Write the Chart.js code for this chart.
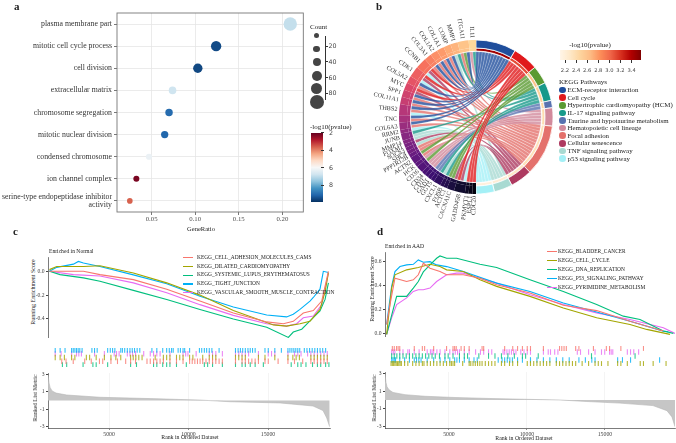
<!DOCTYPE html>
<html><head><meta charset="utf-8">
<script src="https://cdn.jsdelivr.net/npm/chart.js@4.4.1/dist/chart.umd.min.js"></script>
<style>
html,body{margin:0;padding:0;background:#fff}
#root{position:relative;width:676px;height:443px;overflow:hidden;font-family:"Liberation Serif","Times New Roman",serif;color:#222}
#root canvas{position:absolute}
.tx{position:absolute;white-space:nowrap;line-height:1}
.sh{position:absolute}
</style></head>
<body><div id="root">
<canvas id="cA" width="310" height="226" style="left:0;top:0"></canvas>
<canvas id="cB" width="272" height="234" style="left:340px;top:0"></canvas>
<canvas id="cCes" width="304" height="81" style="left:36px;top:257px"></canvas>
<canvas id="cCrug" width="292" height="29" style="left:48px;top:343px"></canvas>
<canvas id="cCrank" width="304" height="71" style="left:36px;top:369px"></canvas>
<canvas id="cDes" width="303" height="85" style="left:373px;top:252px"></canvas>
<canvas id="cDrug" width="291" height="30" style="left:385px;top:341px"></canvas>
<canvas id="cDrank" width="303" height="72" style="left:373px;top:368px"></canvas>
</div>
<script>
// ================= DATA =================
// Panel a: GO enrichment dot plot
const goTerms = ['plasma membrane part','mitotic cell cycle process','cell division','extracellular matrix','chromosome segregation','mitotic nuclear division','condensed chromosome','ion channel complex','serine-type endopeptidase inhibitor activity'];
const goGeneRatio = [0.209,0.124,0.103,0.074,0.070,0.065,0.047,0.0325,0.025];
const goCount = [84,50,41,27,26,25,18,17,15];
const goLogP = [6.9,9.5,9.55,6.75,9.0,9.1,6.2,2.2,3.6];
const ratioTicks = [0.05,0.10,0.15,0.20];
const countKeys = [14,21,30,46,60,92];
const countTicks = [20,40,60,80];
const logPTicks = [2,4,6,8];

// Panel b: KEGG chord diagram
const pathways = ['ECM-receptor interaction','Cell cycle','Hypertrophic cardiomyopathy (HCM)','IL-17 signaling pathway','Taurine and hypotaurine metabolism','Hematopoietic cell lineage','Focal adhesion','Cellular senescence','TNF signaling pathway','p53 signaling pathway'];
const pathwayColors = ['#1f4e9c','#e0191c','#5a9a32','#17998a','#5872b0','#d28a9c','#e4716c','#ad3a60','#a8dad2','#a4f0f6'];
const pathwayLogP = [3.45,3.1,2.6,2.5,2.45,2.4,2.35,2.3,2.22,2.18];
const pvalTicks = [2.2,2.4,2.6,2.8,3.0,3.2,3.4];
const genes = ['IL11','ITGA11','MMP1','COMP','COL1A1','COL1A2','COL3A1','CCNB1','CDK1','COL5A2','MYC','SPP1','COL11A1','THBS2','TNC','COL6A3','RRM2','JUNB','MMP14','FOXM1','SOCS3','SHC4','PPP1R12B','ACTN2','HCK','CD36','CD34','CD1C','GAD1','GGT5','CXCL1','FOSB','ACTC1','CACNA1C','GADD45B','PKMYT1','ESPL1','CDC20'];
const geneLogFC = [4.4,4.0,3.7,3.5,3.2,3.0,2.7,2.4,2.0,1.7,1.4,1.1,0.9,0.5,0.2,-0.1,-0.3,-0.5,-0.6,-0.8,-0.9,-1.0,-1.2,-1.4,-1.5,-1.7,-1.9,-2.1,-2.2,-2.3,-2.5,-2.7,-2.8,-3.0,-3.3,-3.5,-3.7,-3.9];
const genePathways = [[3,5],[0,6,2],[3,8],[0,6],[0,6],[0,6],[0,6],[1,9,7],[1,9,7],[0,6],[1,7],[0,6],[0,6],[0,6,9],[0,6],[0,6],[9],[8,3],[8],[7],[8],[6],[6],[6,2],[5],[5,2],[5],[5],[4],[4],[3,8],[3],[2],[2,7],[1,9,7],[1],[1],[1]];

// Panel c: GSEA enriched in Normal
const rankTicks = [5000,10000,15000];
const metricTicks = [-3,-2,-1,0,1,2,3];
const cNames = ['KEGG_CELL_ADHESION_MOLECULES_CAMS','KEGG_DILATED_CARDIOMYOPATHY','KEGG_SYSTEMIC_LUPUS_ERYTHEMATOSUS','KEGG_TIGHT_JUNCTION','KEGG_VASCULAR_SMOOTH_MUSCLE_CONTRACTION'];
const cColors = ['#F8766D','#A3A500','#00BF7D','#00B0F6','#E76BF3'];
const cEsTicks = [-0.4,-0.2,0.0];
const cAdhRank = [1250,3390,4430,6530,8630,10720,12820,14920,15960,16590,17220,17850,18380,18800];
const cAdhES = [0,0,-0.028,-0.07,-0.15,-0.25,-0.35,-0.425,-0.44,-0.42,-0.35,-0.33,-0.25,0.0];
const cDilRank = [1250,1710,3390,4430,6530,8630,10720,12820,14920,15340,16170,17010,17640,18270,18590,18800];
const cDilES = [0.014,0.04,0.04,0.047,-0.014,-0.097,-0.2,-0.33,-0.43,-0.45,-0.46,-0.44,-0.42,-0.32,-0.17,-0.014];
const cSleRank = [1250,1920,3390,4430,6530,8630,10720,12820,14920,16280,16590,17120,17640,18270,18590,18800];
const cSleES = [0,-0.028,-0.055,-0.083,-0.16,-0.236,-0.32,-0.40,-0.47,-0.555,-0.51,-0.486,-0.417,-0.333,-0.236,-0.097];
const cTjRank = [1250,1710,2760,3070,3390,4430,6530,8630,10720,12820,14920,16170,16590,17010,17640,17850,18270,18480,18800];
const cTjES = [0,0.033,0.06,0.083,0.07,0.04,-0.03,-0.105,-0.21,-0.30,-0.367,-0.383,-0.36,-0.32,-0.25,-0.22,-0.15,0.0,-0.01];
const cVscRank = [1250,2760,4430,6530,8630,10720,12820,14920,16170,16800,17220,17850,18380,18800];
const cVscES = [0,-0.028,-0.04,-0.097,-0.18,-0.28,-0.37,-0.44,-0.46,-0.44,-0.39,-0.375,-0.28,-0.014];
const cTjHits = [1295,1610,1925,2345,2450,2555,2660,2765,2870,3017,3647,3815,3983,4655,4823,4970,5117,5495,5600,5747,5915,6083,6230,6377,6545,6713,7490,7805,8183,8435,8603,8750,8855,9170,9317,9485,9590,9905,10535,10682,10850,10997,11165,11333,11795,12845,13013,13160,13307,13475,13643,13790,13937,14105,14735,14945,15365,15785,16205,16331,16457,16583,16709,16835,16961,17255,17423,17591,17759,17927,18095,18263,18431,18620];
const cVscHits = [1295,1673,2345,2660,2807,2975,3815,4445,5075,5222,5390,5915,6083,6251,6440,6965,7385,7595,7805,8015,8645,9485,9653,9800,10325,11165,11375,11585,12005,12845,13055,13265,13475,13685,14315,14945,15155,15365,16205,16625,16835,17045,17465,17675,17885,18095,18305,18515,18725];
const cDilHits = [1295,1610,1883,2345,2555,3290,3500,3920,4445,4865,5180,5495,6125,6293,6461,6650,6860,7700,8225,8435,8645,9065,9275,9485,9905,10115,10745,11165,11375,11585,12845,13055,13265,13475,14315,14735,15365,16205,16520,16730,16940,17675,17885,18095,18305,18515,18725];
const cAdhHits = [1715,1988,2450,3185,3605,4130,4340,4865,5285,5810,6125,6440,7175,7385,7595,7805,8015,8225,8645,9065,9485,9905,10073,10241,10409,10577,10745,10955,11165,11375,11585,11795,12005,12845,13265,13475,13685,13895,14105,14315,14735,14945,15575,16205,16625,17150,17675,17885,18095,18305,18515,18725];
const cSleHits = [1757,2030,3080,3710,3920,4655,6125,6503,7595,7805,8183,8435,8645,9065,9695,10850,11060,11375,12005,12845,13265,13475,13790,14105,14630,16415,16835,17045,17360,17780,18095,18305,18620,18830];
const cMetricRank = [1163,1227,1290,1415,1667,2340,4434,7580,10724,12611,15756,17832,18460,18694,18880];
const cMetricValue = [2.9,2.0,1.5,1.1,0.85,0.63,0.37,0.22,0.05,-0.14,-0.28,-0.63,-1.15,-2.0,-3.0];

// Panel d: GSEA enriched in AAD
const dNames = ['KEGG_BLADDER_CANCER','KEGG_CELL_CYCLE','KEGG_DNA_REPLICATION','KEGG_P53_SIGNALING_PATHWAY','KEGG_PYRIMIDINE_METABOLISM'];
const dColors = ['#F8766D','#A3A500','#00BF7D','#00B0F6','#E76BF3'];
const dEsTicks = [0.0,0.2,0.4,0.6];
const dBlaRank = [1005,1219,1539,2287,2715,3035,3356,3783,4424,4852,5920,6989,8057,10194,12331,14468,16605,18742];
const dBlaES = [0.074,0.239,0.458,0.43,0.444,0.486,0.582,0.54,0.513,0.486,0.486,0.458,0.403,0.335,0.233,0.189,0.10,0.019];
const dCcRank = [1005,1325,1539,2287,3035,3783,4424,4852,5920,6989,8057,10194,12331,14468,16605,17674,19169];
const dCcES = [-0.008,0.376,0.486,0.527,0.546,0.573,0.554,0.527,0.513,0.444,0.39,0.307,0.211,0.129,0.074,0.033,-0.008];
const dDnaRank = [1005,1646,2287,2715,3035,3356,3783,4210,4424,4852,5493,6989,8057,10194,12331,14468,16178,17246,18742,19383];
const dDnaES = [-0.008,0.307,0.307,0.376,0.43,0.51,0.568,0.623,0.642,0.623,0.623,0.573,0.546,0.444,0.348,0.239,0.143,0.115,0.019,0.0];
const dP53Rank = [1005,1325,1539,1860,2287,2715,3035,3356,3783,4210,4852,5920,8057,10194,12331,14468,16605,18742,19063];
const dP53ES = [0.074,0.39,0.513,0.554,0.568,0.573,0.609,0.59,0.595,0.568,0.554,0.513,0.417,0.348,0.252,0.178,0.10,0.019,0.014];
const dPyrRank = [1005,1325,1646,2287,2715,3035,3356,3783,4210,4852,5493,5920,6989,8057,10194,12331,14468,16605,18742,19490];
const dPyrES = [-0.008,0.129,0.239,0.294,0.348,0.362,0.362,0.376,0.43,0.486,0.5,0.5,0.458,0.417,0.321,0.239,0.17,0.115,0.047,0.0];
const dBlaHits = [1048,1176,1325,1432,1539,2501,3035,3185,3783,4638,5065,5172,5279,5600,5813,6134,6989,7095,8484,9019,9339,9660,9980,10194,11049,12117,12267,12416,12566,13186,13400,14361,15216,15430,16178,17674];
const dPyrHits = [1005,1112,1219,1539,1753,2073,2180,2501,2821,3356,3569,3676,3783,3997,4210,4531,4852,5065,5215,5364,5493,5813,6134,6561,6882,7095,7416,7630,8378,8484,8634,8784,8933,9083,9232,9553,9767,9980,10194,11049,11369,11519,11797,12010,13293,13506,14041,14468,14895,15109,15430,15537,15643,16605,16819,17032,17353];
const dDnaHits = [1005,1176,1347,1539,1753,1966,2180,2394,2608,2821,3035,3249,3462,3676,3890,4168,4531,4745,5065,5493,5813,6027,6775,7416,7843,8271,8698,9126,9660,9873,10707,14233,17118];
const dP53Hits = [1005,1090,1176,1261,1539,1860,2180,2501,2650,2800,2950,3356,3783,4210,4531,4852,5172,5322,5493,5813,6134,6454,6668,8057,8313,8484,8655,8826,8997,9339,9660,10194,10621,11049,11476,11904,12331,12758,13400,13827,14254,14468,15964,16284,16819,18742];
const dCcHits = [962,1048,1133,1219,1304,1390,1475,1561,1646,1860,2073,2394,2608,2821,3035,3142,3356,3569,3783,3997,4210,4424,4638,4852,4958,5065,5172,5706,6134,6240,6390,6540,6689,6839,6989,7202,7416,7630,7843,8271,8484,8805,9019,9339,9980,10194,10408,10621,10835,11049,11263,11476,11904,12117,12331,12545,12758,12972,13186,13613,14041,14468,14682,14895,15323,15964,16178,16605,17460,17674,18315,19169];
const dMetricRank = [897,961,1026,1154,1410,2179,3461,5384,7628,9871,12115,13846,15961,18076,18974,19294,19490];
const dMetricValue = [3.0,2.0,1.5,1.15,0.85,0.6,0.42,0.28,0.17,0.08,0.0,-0.17,-0.35,-0.63,-1.2,-1.9,-3.0];

// ================= HELPERS =================
const SERIF = '"Liberation Serif","Times New Roman",serif';
const SANS = '"DejaVu Sans",sans-serif';
Chart.defaults.font.family = SERIF;
Chart.defaults.color = '#333';
Chart.defaults.animation = false;
const root = document.getElementById('root');

function hexToRgb(h){const n=parseInt(h.slice(1),16);return [(n>>16)&255,(n>>8)&255,n&255];}
function ramp(stops,t){t=Math.max(0,Math.min(1,t));const n=stops.length-1;const i=Math.min(Math.floor(t*n),n-1);const f=t*n-i;const a=hexToRgb(stops[i]),b=hexToRgb(stops[i+1]);return 'rgb('+a.map((v,k)=>Math.round(v+(b[k]-v)*f)).join(',')+')';}
function hexA(h,a){const c=hexToRgb(h);return `rgba(${c[0]},${c[1]},${c[2]},${a})`;}
const rdbuStops = ['#67001f','#b2182b','#d6604d','#f4a582','#fddbc7','#f7f7f7','#d1e5f0','#92c5de','#4393c3','#2166ac','#053061'];
const LP_MIN = 2, LP_MAX = 9.9;
const rdbu = v => ramp(rdbuStops,(v-LP_MIN)/(LP_MAX-LP_MIN));
const orrdStops = ['#fff5e8','#fee8c8','#fdd49e','#fdbb84','#fc8d59','#ef6548','#d7301f','#b30000','#7f0000'];
const PV_MIN = 2.11, PV_MAX = 3.57;
const pvalColor = v => ramp(orrdStops,(v-PV_MIN)/(PV_MAX-PV_MIN));
const magmaStops = ['#000004','#140e36','#3b0f70','#641a80','#8c2981','#b73779','#de4968','#f7705c','#fe9f6d','#fecf92','#fcfdbf'];
const fcMin = Math.min(...geneLogFC), fcMax = Math.max(...geneLogFC);
const magma = v => ramp(magmaStops, 0.02 + 0.9*(v-fcMin)/(fcMax-fcMin));
const sizeOf = c => 0.73*Math.sqrt(c);

function txt(s,x,y,o={}){
  const d=document.createElement('div');d.className='tx';d.textContent=s;
  d.style.left=x+'px';d.style.top=y+'px';d.style.fontSize=(o.size||7)+'px';
  if(o.family)d.style.fontFamily=o.family; if(o.weight)d.style.fontWeight=o.weight; if(o.color)d.style.color=o.color;
  const ax=o.align==='center'?'-50%':o.align==='right'?'-100%':'0';
  d.style.transform=`translate(${ax},-50%)`+(o.rotate?` rotate(${o.rotate}deg)`:'');
  root.appendChild(d);return d;
}
function box(x,y,w,h,bg,extra){const d=document.createElement('div');d.className='sh';d.style.left=x+'px';d.style.top=y+'px';d.style.width=w+'px';d.style.height=h+'px';d.style.background=bg;if(extra)Object.assign(d.style,extra);root.appendChild(d);return d;}
function dot(x,y,r,c){return box(x-r,y-r,2*r,2*r,c,{borderRadius:'50%'});}

const noInteract = {responsive:false, animation:false, events:[], plugins:{legend:{display:false}, tooltip:{enabled:false}}};
const framePlugin = {id:'frame', afterDraw(chart,args,o){const {ctx,chartArea:a}=chart;ctx.save();ctx.strokeStyle=o.color||'#666';ctx.lineWidth=o.width||0.8;ctx.strokeRect(a.left,a.top,a.right-a.left,a.bottom-a.top);ctx.restore();}};

// ================= PANEL A =================
function wrap(s){ if(s.length<=32) return s; const w=s.split(' '); const last=w.pop(); return [w.join(' '), last]; }
new Chart(document.getElementById('cA'),{
  type:'scatter',
  data:{datasets:[{
    data: goTerms.map((t,i)=>({x:goGeneRatio[i], y:i})),
    pointRadius: c=>sizeOf(goCount[c.dataIndex]),
    pointBackgroundColor: c=>rdbu(goLogP[c.dataIndex]),
    pointBorderWidth:0
  }]},
  options:{...noInteract,
    layout:{padding:{top:13,right:6}},
    plugins:{...noInteract.plugins, frame:{color:'#777',width:0.9}},
    scales:{
      x:{type:'linear',min:0.0103,max:0.224,
        afterBuildTicks:s=>{s.ticks=ratioTicks.map(v=>({value:v}));},
        ticks:{callback:v=>v.toFixed(2),font:{size:6.8},padding:0,color:'#4d4d4d',maxRotation:0,autoSkip:false},
        grid:{color:'#e6e6e6',lineWidth:0.8,tickLength:3,tickColor:'#555'},
        border:{display:false},
        afterFit:s=>{s.height=14;s.paddingLeft=0;s.paddingRight=0;}},
      y:{type:'linear',min:-0.5,max:goTerms.length-0.5,reverse:true,
        afterBuildTicks:s=>{s.ticks=goTerms.map((t,i)=>({value:i}));},
        ticks:{callback:v=>wrap(goTerms[v]),font:{size:7.8,lineHeight:0.95},padding:2,color:'#333',autoSkip:false},
        grid:{color:'#e6e6e6',lineWidth:0.8,tickLength:3,tickColor:'#555'},
        border:{display:false},
        afterFit:s=>{s.width=117;s.paddingTop=0;s.paddingBottom=0;}}
    }},
  plugins:[framePlugin]
});
txt('a',14,6,{size:11,weight:'bold'});
txt('GeneRatio',201,229,{size:6.5,align:'center'});
// size legend
txt('Count',310,27,{size:7});
countKeys.forEach((c,i)=>dot(316.7,[35.7,49,62.3,75.7,88.8,101.7][i],sizeOf(c),'#444'));
box(325,36,0.8,64,'#333');
countTicks.forEach((c,i)=>{const y=[46,61.7,77.7,93.3][i];box(325,y-0.4,2.5,0.8,'#333');txt(String(c),328.5,y,{size:6.3,family:SANS,color:'#444'});});
// colour bar legend
txt('-log10(pvalue)',310,127,{size:7});
box(310.5,132.7,12.5,69,`linear-gradient(to bottom, ${rdbuStops.join(',')})`);
logPTicks.forEach(v=>{const y=132.7+(v-LP_MIN)/(LP_MAX-LP_MIN)*69;box(321,y-0.4,3,0.8,'#333');txt(String(v),329,y,{size:6.3,family:SANS,color:'#444'});});

// ================= PANEL B =================
const nP = pathways.length, nG = genes.length;
const pathwayLinks = pathways.map((_,p)=>genePathways.filter(l=>l.includes(p)).length);
const geneCW = genes.map((_,i)=>nG-1-i);
const ringData = [...pathwayLinks, ...geneCW.map(i=>genePathways[i].length)];
const geneColor = geneLogFC.map(magma);
const chordPlugin = {
  id:'chord',
  afterDatasetsDraw(chart){
    const m0=chart.getDatasetMeta(0).data, m1=chart.getDatasetMeta(1).data, ctx=chart.ctx;
    const cx=m1[0].x, cy=m1[0].y, r=m1[0].innerRadius-0.8, R=m0[0].outerRadius;
    const used=new Array(nP).fill(0);
    const K=0.3;
    const pt=(a,f)=>[cx+f*r*Math.cos(a), cy+f*r*Math.sin(a)];
    const curve=(a,b)=>{const c1=pt(a,K),c2=pt(b,K),e=pt(b,1);ctx.bezierCurveTo(c1[0],c1[1],c2[0],c2[1],e[0],e[1]);};
    ctx.save();
    genes.forEach((g,gi)=>{
      const arcG=m1[nP+(nG-1-gi)];
      const list=genePathways[gi].slice().sort((a,b)=>b-a);
      const gs=(arcG.endAngle-arcG.startAngle)/list.length;
      list.forEach((p,k)=>{
        const arcP=m1[p];
        const ps=(arcP.endAngle-arcP.startAngle)/pathwayLinks[p];
        const pa0=arcP.startAngle+ps*used[p]; used[p]++;
        const pa1=pa0+ps, ga0=arcG.startAngle+gs*k, ga1=ga0+gs;
        ctx.beginPath();
        ctx.arc(cx,cy,r,ga0,ga1);
        curve(ga1,pa0);
        ctx.arc(cx,cy,r,pa0,pa1);
        curve(pa1,ga0);
        ctx.closePath();
        ctx.fillStyle=hexA(pathwayColors[p],0.8); ctx.fill();
        ctx.strokeStyle='rgba(255,255,255,0.45)'; ctx.lineWidth=0.4; ctx.stroke();
      });
    });
    // gene labels
    ctx.fillStyle='#333'; ctx.font='6.2px '+SERIF; ctx.textAlign='right'; ctx.textBaseline='middle';
    genes.forEach((g,gi)=>{
      const arc=m0[nP+(nG-1-gi)]; const a=(arc.startAngle+arc.endAngle)/2;
      ctx.save(); ctx.translate(cx+(R+2)*Math.cos(a), cy+(R+2)*Math.sin(a)); ctx.rotate(a-Math.PI);
      ctx.fillText(g,0,0); ctx.restore();
    });
    ctx.restore();
  }
};
new Chart(document.getElementById('cB'),{
  type:'doughnut',
  data:{labels:[...pathways,...geneCW.map(i=>genes[i])],
    datasets:[
      {data:ringData, backgroundColor:[...pathwayColors,...geneCW.map(i=>geneColor[i])], weight:8, borderWidth:c=>c.dataIndex<nP?0.8:0, borderColor:'#fff'},
      {data:ringData, backgroundColor:[...pathwayLogP.map(pvalColor),...geneCW.map(i=>geneColor[i])], weight:3, borderWidth:c=>c.dataIndex<nP?0.8:0, borderColor:'#fff'}
    ]},
  options:{...noInteract, radius:77, cutout:'85.7%'},
  plugins:[chordPlugin]
});
txt('b',376,6,{size:11,weight:'bold'});
txt('-log10(pvalue)',590,44.5,{size:7,align:'center'});
box(560,49.5,81,10.5,`linear-gradient(to right, ${orrdStops.join(',')})`);
pvalTicks.forEach(v=>{const x=560+(v-PV_MIN)/(PV_MAX-PV_MIN)*81;box(x-0.4,60,0.8,2.5,'#333');txt(v.toFixed(1),x,70.5,{size:5.2,family:SANS,align:'center',color:'#444'});});
txt('KEGG Pathways',559,82,{size:7});
pathways.forEach((p,i)=>{const y=90+i*7.63;dot(562.3,y,3.3,pathwayColors[i]);txt(p,567.5,y,{size:6.9});});

// ================= PANELS C & D =================
function gsea(o){
  const xHidden={type:'linear',min:o.xmin,max:o.xmax,display:false};
  const yFit=s=>{s.width=12;s.paddingTop=0;s.paddingBottom=0;};
  new Chart(document.getElementById(o.es),{type:'line',
    data:{datasets:o.series.map(s=>({data:s.rank.map((r,i)=>({x:r,y:s.es[i]})),borderColor:s.color,borderWidth:1.1,pointRadius:0,tension:0,fill:false}))},
    options:{...noInteract,layout:{padding:{right:o.padR}},scales:{x:xHidden,
      y:{type:'linear',min:o.ymin,max:o.ymax,afterBuildTicks:s=>{s.ticks=o.esTicks.map(v=>({value:v}));},
        ticks:{callback:v=>v.toFixed(1),font:{size:5.6},padding:1.5,color:'#444'},
        grid:{drawOnChartArea:false,tickLength:2,color:'#444'},border:{color:'#444',width:0.7},afterFit:yFit}}}});
  new Chart(document.getElementById(o.rug),{type:'scatter',
    data:{datasets:o.series.map(s=>({data:s.hits.map(h=>({x:h,y:s.row})),pointStyle:'line',pointRotation:90,pointRadius:2.8,pointBorderColor:hexA(s.color,0.8),pointBorderWidth:1.1}))},
    options:{...noInteract,layout:{padding:{right:o.padR}},scales:{x:xHidden,y:{type:'linear',min:-0.5,max:4.5,reverse:true,display:false}}}});
  new Chart(document.getElementById(o.rank),{type:'line',
    data:{datasets:[{data:o.mRank.map((r,i)=>({x:r,y:o.mVal[i]})),fill:'origin',backgroundColor:'#c6c6c6',borderColor:'#b5b5b5',borderWidth:0.6,pointRadius:0,tension:0}]},
    options:{...noInteract,layout:{padding:{top:4,right:o.padR}},scales:{
      x:{type:'linear',min:o.xmin,max:o.xmax,afterBuildTicks:s=>{s.ticks=rankTicks.map(v=>({value:v}));},
        ticks:{callback:v=>String(v),font:{size:5.8},padding:1,color:'#444',maxRotation:0,autoSkip:false},
        grid:{color:'#ececec',lineWidth:0.6,tickLength:2,tickColor:'#444'},border:{color:'#444',width:0.7},
        afterFit:s=>{s.height=12;s.paddingLeft=0;s.paddingRight=0;}},
      y:{type:'linear',min:-3.15,max:3.15,afterBuildTicks:s=>{s.ticks=metricTicks.map(v=>({value:v}));},
        ticks:{callback:v=>String(v),font:{size:5.6},padding:1.5,color:'#444'},
        grid:{drawOnChartArea:false,tickLength:2,color:'#444'},border:{color:'#444',width:0.7},afterFit:yFit}}}});
}
gsea({es:'cCes',rug:'cCrug',rank:'cCrank',xmin:1160,xmax:18900,ymin:-0.56,ymax:0.12,esTicks:cEsTicks,padR:10,
  mRank:cMetricRank,mVal:cMetricValue,
  series:[
    {rank:cAdhRank,es:cAdhES,hits:cAdhHits,color:cColors[0],row:3},
    {rank:cDilRank,es:cDilES,hits:cDilHits,color:cColors[1],row:2},
    {rank:cSleRank,es:cSleES,hits:cSleHits,color:cColors[2],row:4},
    {rank:cTjRank,es:cTjES,hits:cTjHits,color:cColors[3],row:0},
    {rank:cVscRank,es:cVscES,hits:cVscHits,color:cColors[4],row:1}]});
gsea({es:'cDes',rug:'cDrug',rank:'cDrank',xmin:900,xmax:19490,ymin:-0.03,ymax:0.675,esTicks:dEsTicks,padR:1,
  mRank:dMetricRank,mVal:dMetricValue,
  series:[
    {rank:dBlaRank,es:dBlaES,hits:dBlaHits,color:dColors[0],row:0},
    {rank:dCcRank,es:dCcES,hits:dCcHits,color:dColors[1],row:4},
    {rank:dDnaRank,es:dDnaES,hits:dDnaHits,color:dColors[2],row:2},
    {rank:dP53Rank,es:dP53ES,hits:dP53Hits,color:dColors[3],row:3},
    {rank:dPyrRank,es:dPyrES,hits:dPyrHits,color:dColors[4],row:1}]});

txt('c',13,231,{size:11,weight:'bold'});
txt('Enriched in Normal',49,252,{size:5.6});
txt('Running Enrichment Score',33,292,{size:6,align:'center',rotate:-90});
txt('Ranked List Metric',35,398,{size:6,align:'center',rotate:-90});
txt('Rank in Ordered Dataset',190,438,{size:5.8,align:'center'});
cNames.forEach((n,i)=>{const y=[257.7,266.7,275.3,284,292.7][i];box(183,y-0.6,10,1.2,cColors[i]);txt(n,197,y,{size:5.4});});

txt('d',377,231,{size:11,weight:'bold'});
txt('Enriched in AAD',385,247,{size:5.6});
txt('Running Enrichment Score',372,289,{size:6,align:'center',rotate:-90});
txt('Ranked List Metric',374,398,{size:6,align:'center',rotate:-90});
txt('Rank in Ordered Dataset',524,439,{size:5.8,align:'center'});
dNames.forEach((n,i)=>{const y=251.7+i*9;box(547,y-0.6,10,1.2,dColors[i]);txt(n,558,y,{size:5.4});});
</script></body></html>
